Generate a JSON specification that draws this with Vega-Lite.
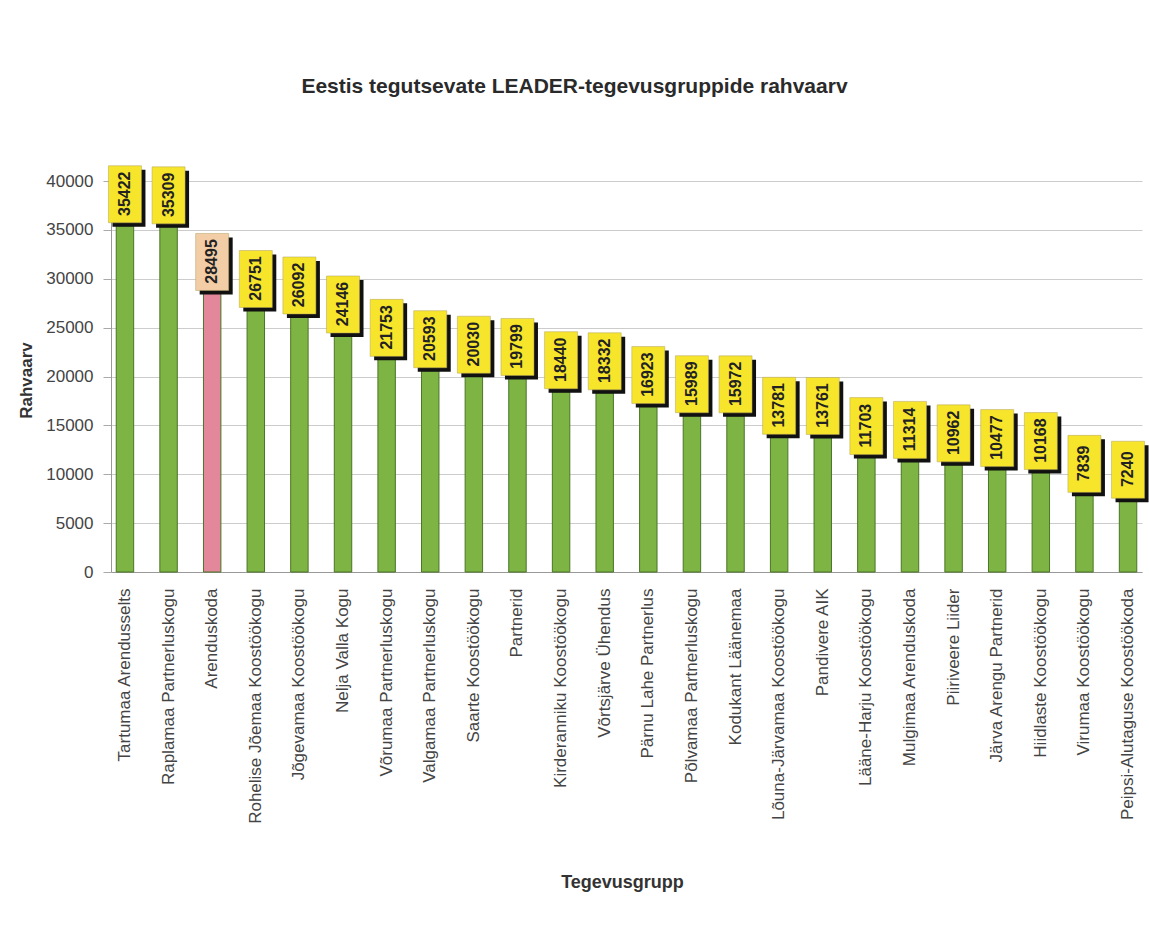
{
  "$schema": "https://vega.github.io/schema/vega-lite/v6.json",
  "autosize": "none",
  "width": 1031,
  "height": 391,
  "padding": {"left": 111, "top": 181, "right": 7, "bottom": 360},
  "background": "white",
  "view": {"stroke": null},
  "config": {"font": "Liberation Sans"},
  "title": {
    "text": "Eestis tegutsevate LEADER-tegevusgruppide rahvaarv",
    "fontSize": 21,
    "fontWeight": "bold",
    "color": "#2a2a2a",
    "anchor": "middle",
    "offset": 68,
    "dx": -52
  },
  "data": {
    "values": [
      {"name": "Tartumaa Arendusselts", "value": 35422},
      {"name": "Raplamaa Partnerluskogu", "value": 35309},
      {"name": "Arenduskoda", "value": 28495},
      {"name": "Rohelise Jõemaa Koostöökogu", "value": 26751},
      {"name": "Jõgevamaa Koostöökogu", "value": 26092},
      {"name": "Nelja Valla Kogu", "value": 24146},
      {"name": "Võrumaa Partnerluskogu", "value": 21753},
      {"name": "Valgamaa Partnerluskogu", "value": 20593},
      {"name": "Saarte Koostöökogu", "value": 20030},
      {"name": "Partnerid", "value": 19799},
      {"name": "Kirderanniku Koostöökogu", "value": 18440},
      {"name": "Võrtsjärve Ühendus", "value": 18332},
      {"name": "Pärnu Lahe Partnerlus", "value": 16923},
      {"name": "Põlvamaa Partnerluskogu", "value": 15989},
      {"name": "Kodukant Läänemaa", "value": 15972},
      {"name": "Lõuna-Järvamaa Koostöökogu", "value": 13781},
      {"name": "Pandivere AIK", "value": 13761},
      {"name": "Lääne-Harju Koostöökogu", "value": 11703},
      {"name": "Mulgimaa Arenduskoda", "value": 11314},
      {"name": "Piiriveere Liider", "value": 10962},
      {"name": "Järva Arengu Partnerid", "value": 10477},
      {"name": "Hiidlaste Koostöökogu", "value": 10168},
      {"name": "Virumaa Koostöökogu", "value": 7839},
      {"name": "Peipsi-Alutaguse Koostöökoda", "value": 7240}
    ]
  },
  "encoding": {
    "x": {
      "field": "name",
      "type": "nominal",
      "sort": null,
      "scale": {"paddingInner": 0.6, "paddingOuter": 0.12},
      "axis": {
        "title": "Tegevusgrupp",
        "titleFontSize": 18,
        "titleFontWeight": "bold",
        "titleColor": "#333333",
        "titleX": 511,
        "titleY": 301,
        "labelAngle": -90,
        "labelFontSize": 17,
        "labelColor": "#444444",
        "labelLimit": 400,
        "labelPadding": 16,
        "ticks": false,
        "domainColor": "#999999",
        "grid": false
      }
    }
  },
  "layer": [
    {
      "mark": {"type": "bar", "stroke": "#4a7526", "strokeWidth": 1},
      "encoding": {
        "y": {
          "field": "value",
          "type": "quantitative",
          "scale": {"domain": [0, 40000]},
          "axis": {
            "title": "Rahvaarv",
            "titleFontSize": 17,
            "titleFontWeight": "bold",
            "titleColor": "#333333",
            "titleX": -76,
            "titleY": 199,
            "values": [0, 5000, 10000, 15000, 20000, 25000, 30000, 35000, 40000],
            "format": "d",
            "labelFontSize": 17,
            "labelColor": "#444444",
            "labelPadding": 10,
            "tickSize": 8,
            "tickColor": "#aaaaaa",
            "domainColor": "#999999",
            "gridColor": "#cccccc"
          }
        },
        "color": {
          "condition": {"test": "datum.name === 'Arenduskoda'", "value": "#e3889a"},
          "value": "#7db443"
        }
      }
    },
    {
      "mark": {"type": "rect", "color": "#111111", "width": 33, "xOffset": 4, "yOffset": -56, "y2Offset": 1},
      "encoding": {
        "y": {"field": "value", "type": "quantitative"},
        "y2": {"field": "value"}
      }
    },
    {
      "mark": {"type": "rect", "width": 33, "yOffset": -60, "y2Offset": -3, "stroke": "#b0a060", "strokeWidth": 0.5},
      "encoding": {
        "y": {"field": "value", "type": "quantitative"},
        "y2": {"field": "value"},
        "color": {
          "condition": {"test": "datum.name === 'Arenduskoda'", "value": "#f2cda6"},
          "value": "#f7e52b"
        }
      }
    },
    {
      "mark": {"type": "text", "angle": 270, "fontSize": 16, "fontWeight": "bold", "color": "#222222", "yOffset": -32},
      "encoding": {
        "y": {"field": "value", "type": "quantitative"},
        "text": {"field": "value", "type": "quantitative", "format": "d"}
      }
    }
  ]
}
